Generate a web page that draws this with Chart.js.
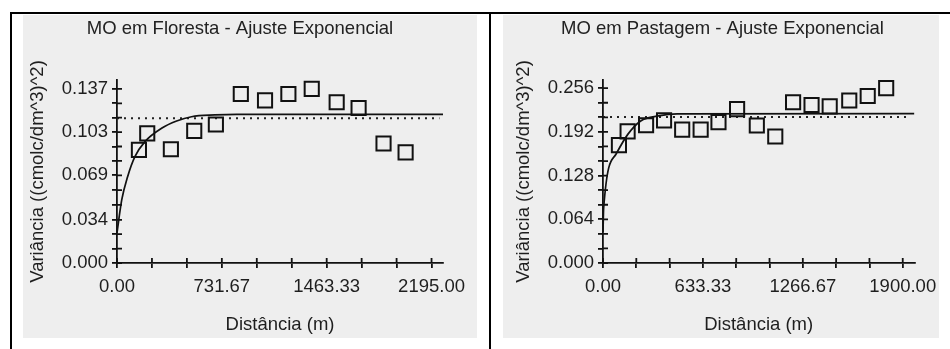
<!DOCTYPE html>
<html>
<head>
<meta charset="utf-8">
<script src="https://cdn.jsdelivr.net/npm/chart.js@4/dist/chart.umd.min.js"></script>
<style>
  html, body { margin: 0; padding: 0; background: #fff; overflow: hidden; }
  .rule { position: absolute; background: #000; }
  .panel { position: absolute; background: #eeeeee; }
  canvas { position: absolute; }
</style>
</head>
<body>
<div class="rule" style="left:10px;top:12px;width:940px;height:2px"></div>
<div class="rule" style="left:10px;top:12px;width:2px;height:337px"></div>
<div class="rule" style="left:489px;top:12px;width:2px;height:337px"></div>
<div class="panel" style="left:23px;top:15px;width:454px;height:323px"></div>
<div class="panel" style="left:503px;top:15px;width:436px;height:323px"></div>
<canvas id="florestaChart" width="474" height="323" style="left:3px;top:15px"></canvas>
<canvas id="pastagemChart" width="445" height="323" style="left:500px;top:15px"></canvas>
<script>
// MO em Floresta: experimental semivariogram + exponential fit
var florestaDist = [153, 211, 376, 539, 690, 864, 1033, 1196, 1359, 1533, 1686, 1860, 2014];
var florestaVar = [0.089, 0.102, 0.0895, 0.104, 0.109, 0.133, 0.128, 0.133, 0.137, 0.1265, 0.122, 0.094, 0.087];
var florestaModelDist = [0, 33, 74, 125, 195, 311, 416, 520, 683, 836, 2275];
var florestaModelVar = [0.0238, 0.0496, 0.0679, 0.0837, 0.0955, 0.106, 0.1117, 0.1151, 0.1165, 0.117, 0.117];
var florestaSampleVar = 0.114;
var florestaXLabels = ['0.00', '731.67', '1463.33', '2195.00'];
var florestaYLabels = ['0.000', '0.034', '0.069', '0.103', '0.137'];

// MO em Pastagem
var pastagemDist = [101, 156, 273, 387, 502, 619, 732, 850, 975, 1092, 1205, 1322, 1437, 1561, 1678, 1795];
var pastagemVar = [0.1727, 0.1928, 0.2018, 0.2089, 0.1953, 0.1953, 0.2063, 0.2254, 0.2013, 0.1852, 0.2354, 0.2314, 0.2294, 0.2379, 0.2445, 0.256];
var pastagemModelDist = [0, 4, 84, 156, 239, 352, 470, 1974];
var pastagemModelVar = [0.045, 0.08, 0.16, 0.188, 0.208, 0.2154, 0.2185, 0.2188];
var pastagemSampleVar = 0.2139;
var pastagemXLabels = ['0.00', '633.33', '1266.67', '1900.00'];
var pastagemYLabels = ['0.000', '0.064', '0.128', '0.192', '0.256'];

Chart.defaults.font.family = '"Liberation Sans", Arial, sans-serif';
Chart.defaults.font.size = 18.5;
Chart.defaults.color = '#1e1e1e';

function pairs(xs, ys) {
  return xs.map(function(x, i) { return { x: x, y: ys[i] }; });
}

// labelled ticks plus two unlabelled ones in each gap
function tickValues(labels) {
  var majors = labels.map(parseFloat);
  var vals = [];
  for (var i = 0; i < majors.length; i++) {
    vals.push(majors[i]);
    if (i < majors.length - 1) {
      var step = (majors[i + 1] - majors[i]) / 3;
      vals.push(majors[i] + step, majors[i] + 2 * step);
    }
  }
  return vals;
}

// tick marks on the plot side of each axis (Chart.js only draws the outer half)
var innerTicks = {
  id: 'innerTicks',
  afterDatasetsDraw: function(chart) {
    var ctx = chart.ctx, xs = chart.scales.x, ys = chart.scales.y;
    ctx.save();
    ctx.strokeStyle = '#111';
    ctx.lineWidth = 1.8;
    ctx.beginPath();
    xs.ticks.forEach(function(t) {
      var px = xs.getPixelForValue(t.value);
      ctx.moveTo(px, xs.top);
      ctx.lineTo(px, xs.top - 5);
    });
    ys.ticks.forEach(function(t) {
      var py = ys.getPixelForValue(t.value);
      ctx.moveTo(ys.right, py);
      ctx.lineTo(ys.right + 5, py);
    });
    ctx.stroke();
    ctx.restore();
  }
};

function makeChart(id, cfg) {
  var xVals = tickValues(cfg.xLabels), yVals = tickValues(cfg.yLabels);
  var xMaj = cfg.xLabels.map(parseFloat), yMaj = cfg.yLabels.map(parseFloat);

  var axisGrid = { drawOnChartArea: false, drawTicks: true, tickLength: 5, color: '#111', lineWidth: 1.8 };
  var axisBorder = { display: true, color: '#111', width: 1.8 };

  return new Chart(document.getElementById(id), {
    type: 'scatter',
    data: {
      datasets: [
        {
          data: pairs(cfg.dist, cfg.gamma),
          pointStyle: 'rect',
          pointRadius: 10,
          pointBorderWidth: 2,
          pointBorderColor: '#111',
          pointBackgroundColor: 'transparent'
        },
        {
          data: pairs(cfg.modelDist, cfg.modelGamma),
          showLine: true,
          pointRadius: 0,
          borderColor: '#111',
          borderWidth: 1.7,
          cubicInterpolationMode: 'monotone'
        },
        {
          data: [{ x: 0, y: cfg.sampleVar }, { x: cfg.dotEnd, y: cfg.sampleVar }],
          showLine: true,
          pointRadius: 0,
          borderColor: '#222',
          borderWidth: 2,
          borderDash: [2, 5]
        }
      ]
    },
    options: {
      responsive: false,
      animation: false,
      events: [],
      layout: { padding: 0 },
      plugins: {
        legend: { display: false },
        tooltip: { enabled: false },
        title: {
          display: true,
          text: cfg.title,
          color: '#222',
          font: { size: 18.5, weight: 'normal' },
          padding: { top: 3, bottom: 39.8 }
        }
      },
      scales: {
        x: {
          type: 'linear',
          min: 0,
          max: cfg.xMax,
          grid: axisGrid,
          border: axisBorder,
          afterBuildTicks: function(s) { s.ticks = xVals.map(function(v) { return { value: v }; }); },
          afterFit: function(s) { s.height = 75; },
          ticks: {
            autoSkip: false,
            maxRotation: 0,
            padding: 8,
            callback: function(v) { var i = xMaj.indexOf(v); return i >= 0 ? cfg.xLabels[i] : ''; }
          },
          title: { display: true, text: 'Distância (m)', padding: { top: 0, bottom: 2 } }
        },
        y: {
          type: 'linear',
          min: 0,
          max: cfg.yMax,
          grid: axisGrid,
          border: axisBorder,
          afterBuildTicks: function(s) { s.ticks = yVals.map(function(v) { return { value: v }; }); },
          afterFit: function(s) { s.width = cfg.yWidth; },
          ticks: {
            autoSkip: false,
            padding: 4,
            callback: function(v) { var i = yMaj.indexOf(v); return i >= 0 ? cfg.yLabels[i] : ''; }
          },
          title: { display: true, text: 'Variância ((cmolc/dm^3)^2)', padding: { top: cfg.yTitlePad, bottom: 0 } }
        },
        // empty strip on the right so the plot ends before the title box does
        margin: {
          type: 'linear',
          axis: 'y',
          position: 'right',
          grid: { display: false },
          border: { display: false },
          ticks: { display: false },
          afterFit: function(s) { s.width = cfg.rightGap; }
        }
      }
    },
    plugins: [innerTicks]
  });
}

makeChart('florestaChart', {
  title: 'MO em Floresta - Ajuste Exponencial',
  dist: florestaDist, gamma: florestaVar,
  modelDist: florestaModelDist, modelGamma: florestaModelVar,
  sampleVar: florestaSampleVar, dotEnd: 2250,
  xLabels: florestaXLabels, yLabels: florestaYLabels,
  xMax: 2275, yMax: 0.144,
  yWidth: 114, rightGap: 34, yTitlePad: 23.9
});

makeChart('pastagemChart', {
  title: 'MO em Pastagem - Ajuste Exponencial',
  dist: pastagemDist, gamma: pastagemVar,
  modelDist: pastagemModelDist, modelGamma: pastagemModelVar,
  sampleVar: pastagemSampleVar, dotEnd: 1945,
  xLabels: pastagemXLabels, yLabels: pastagemYLabels,
  xMax: 1974, yMax: 0.268,
  yWidth: 103, rightGap: 22, yTitlePad: 12.9
});
</script>
</body>
</html>
